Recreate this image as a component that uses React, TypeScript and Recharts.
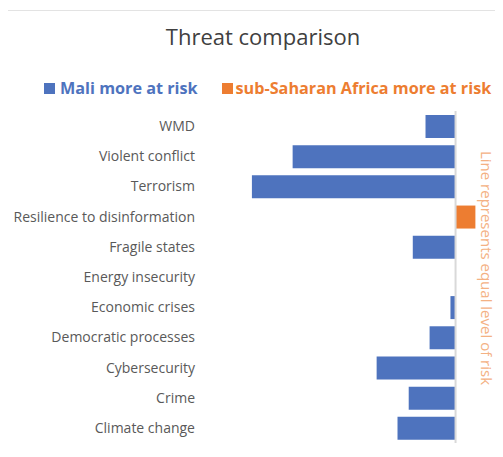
import { BarChart, Bar, XAxis, YAxis, ReferenceLine } from "recharts";

// ─── Data ─────────────────────────────────────────────────────────────
const threats = [
  "WMD",
  "Violent conflict",
  "Terrorism",
  "Resilience to disinformation",
  "Fragile states",
  "Energy insecurity",
  "Economic crises",
  "Democratic processes",
  "Cybersecurity",
  "Crime",
  "Climate change",
];

// negative = Mali more at risk, positive = sub-Saharan Africa more at risk
const riskGap = [-0.59, -3.2, -4.0, 0.39, -0.84, 0, -0.1, -0.51, -1.55, -0.92, -1.14];

const xDomain = [-5, 0.5];

const COLORS = {
  blue: "#4E73BE",
  orange: "#ED7D31",
  note: "#F4B183",
  text: "#595959",
  title: "#404040",
  line: "#D9D9D9",
  border: "#E3E3E3",
};

const FONT = "'Open Sans', sans-serif";

const data = threats.map((name, i) => ({
  name,
  mali: riskGap[i] < 0 ? riskGap[i] : 0,
  ssa: riskGap[i] > 0 ? riskGap[i] : 0,
}));

export default function App() {
  return (
    <div style={{ position: "relative", width: 503, height: 457, margin: -8, background: "#fff", fontFamily: FONT, overflow: "hidden" }}>
      <div style={{ position: "absolute", left: 4, top: 10, width: 520, height: 444, border: `1px solid ${COLORS.border}`, boxSizing: "border-box" }} />
      <div style={{ position: "absolute", left: 0, top: 21, width: 526, textAlign: "center", fontSize: 22, color: COLORS.title }}>
        Threat comparison
      </div>
      <div style={{ position: "absolute", left: 44, top: 77, display: "flex", alignItems: "center", fontSize: 16.2, fontWeight: 700, whiteSpace: "nowrap" }}>
        <span style={{ width: 11, height: 11, background: COLORS.blue, marginRight: 5 }} />
        <span style={{ color: COLORS.blue }}>Mali more at risk</span>
        <span style={{ width: 11, height: 11, background: COLORS.orange, marginLeft: 24, marginRight: 3 }} />
        <span style={{ color: COLORS.orange }}>sub-Saharan Africa more at risk</span>
      </div>
      <div style={{ position: "absolute", left: 0, top: 0 }}>
        <BarChart
          width={503}
          height={457}
          data={data}
          layout="vertical"
          stackOffset="sign"
          margin={{ top: 111, right: 22, bottom: 14, left: 0 }}
          barSize={23}
        >
          <XAxis type="number" domain={xDomain} hide />
          <YAxis
            type="category"
            dataKey="name"
            width={201}
            axisLine={false}
            tickLine={false}
            tickSize={0}
            tickMargin={6}
            tick={{ fill: COLORS.text, fontSize: 14, fontFamily: FONT }}
            interval={0}
          />
          <ReferenceLine x={0} stroke={COLORS.line} strokeWidth={2} />
          <Bar dataKey="mali" stackId="a" fill={COLORS.blue} isAnimationActive={false} />
          <Bar dataKey="ssa" stackId="a" fill={COLORS.orange} isAnimationActive={false} />
        </BarChart>
      </div>
      <div
        style={{
          position: "absolute",
          left: 487,
          top: 268,
          transform: "translate(-50%, -50%) rotate(90deg)",
          fontSize: 15,
          color: COLORS.note,
          whiteSpace: "nowrap",
        }}
      >
        Line represents equal level of risk
      </div>
    </div>
  );
}
